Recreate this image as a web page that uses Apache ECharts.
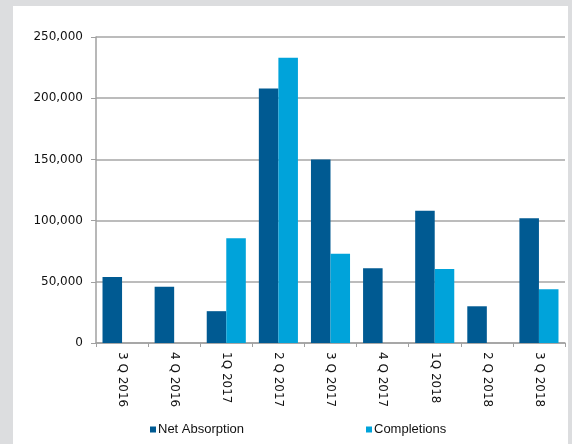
<!DOCTYPE html>
<html>
<head>
<meta charset="utf-8">
<script src="https://cdn.jsdelivr.net/npm/echarts@6/dist/echarts.min.js"></script>
<style>
  html, body { margin: 0; padding: 0; background: #dcdddf; }
  #panel { position: absolute; left: 13px; top: 6px; width: 555px; height: 438px; background: #ffffff; }
  #chart { position: absolute; left: 0; top: 0; width: 572px; height: 444px; }
</style>
</head>
<body>
<div id="panel"></div>
<div id="chart"></div>
<script>
const categories = ['3 Q 2016', '4 Q 2016', '1Q 2017', '2 Q 2017', '3 Q 2017', '4 Q 2017', '1Q 2018', '2 Q 2018', '3 Q 2018'];
const netAbsorption = [54000, 46000, 26000, 208000, 150000, 61000, 108000, 30000, 102000];
const completions = [null, null, 85500, 233000, 73000, null, 60500, null, 44000];
const yTicks = [0, 50000, 100000, 150000, 200000, 250000];

const chart = echarts.init(document.getElementById('chart'), null, { renderer: 'canvas' });
const fmt = v => v.toString().replace(/\B(?=(\d{3})+(?!\d))/g, ',');
chart.setOption({
  animation: false,
  backgroundColor: 'transparent',
  grid: { left: 96, right: 7, top: 37, bottom: 101, containLabel: false },
  legend: {
    left: 145, top: 418,
    itemWidth: 6, itemHeight: 6, itemGap: 122,
    icon: 'rect',
    textStyle: { fontFamily: 'Liberation Sans', fontSize: 13, color: '#111111', padding: [0, 0, 0, -3] },
    data: ['Net Absorption', 'Completions']
  },
  xAxis: {
    type: 'category',
    data: categories,
    axisLine: { lineStyle: { color: '#a0a0a0', width: 1.5 } },
    axisTick: { show: true, length: 4, lineStyle: { color: '#a0a0a0', width: 1 } },
    axisLabel: { rotate: -90, margin: 9, fontFamily: 'DejaVu Sans', fontSize: 12, color: '#111111' }
  },
  yAxis: {
    type: 'value',
    min: yTicks[0], max: yTicks[yTicks.length - 1], interval: 50000,
    axisLine: { show: true, lineStyle: { color: '#a0a0a0', width: 1.5 } },
    axisTick: { show: true, length: 5, lineStyle: { color: '#a0a0a0', width: 1 } },
    splitLine: { lineStyle: { color: '#a6a6a6', width: 1.5 } },
    axisLabel: { margin: 13, fontFamily: 'DejaVu Sans', fontSize: 12, color: '#111111', formatter: fmt }
  },
  series: [
    { name: 'Net Absorption', type: 'bar', data: netAbsorption, barGap: '0%', barCategoryGap: '25%',
      itemStyle: { color: '#005a92' } },
    { name: 'Completions', type: 'bar', data: completions, barGap: '0%', barCategoryGap: '25%',
      itemStyle: { color: '#00a3da' } }
  ]
});
</script>
</body>
</html>
